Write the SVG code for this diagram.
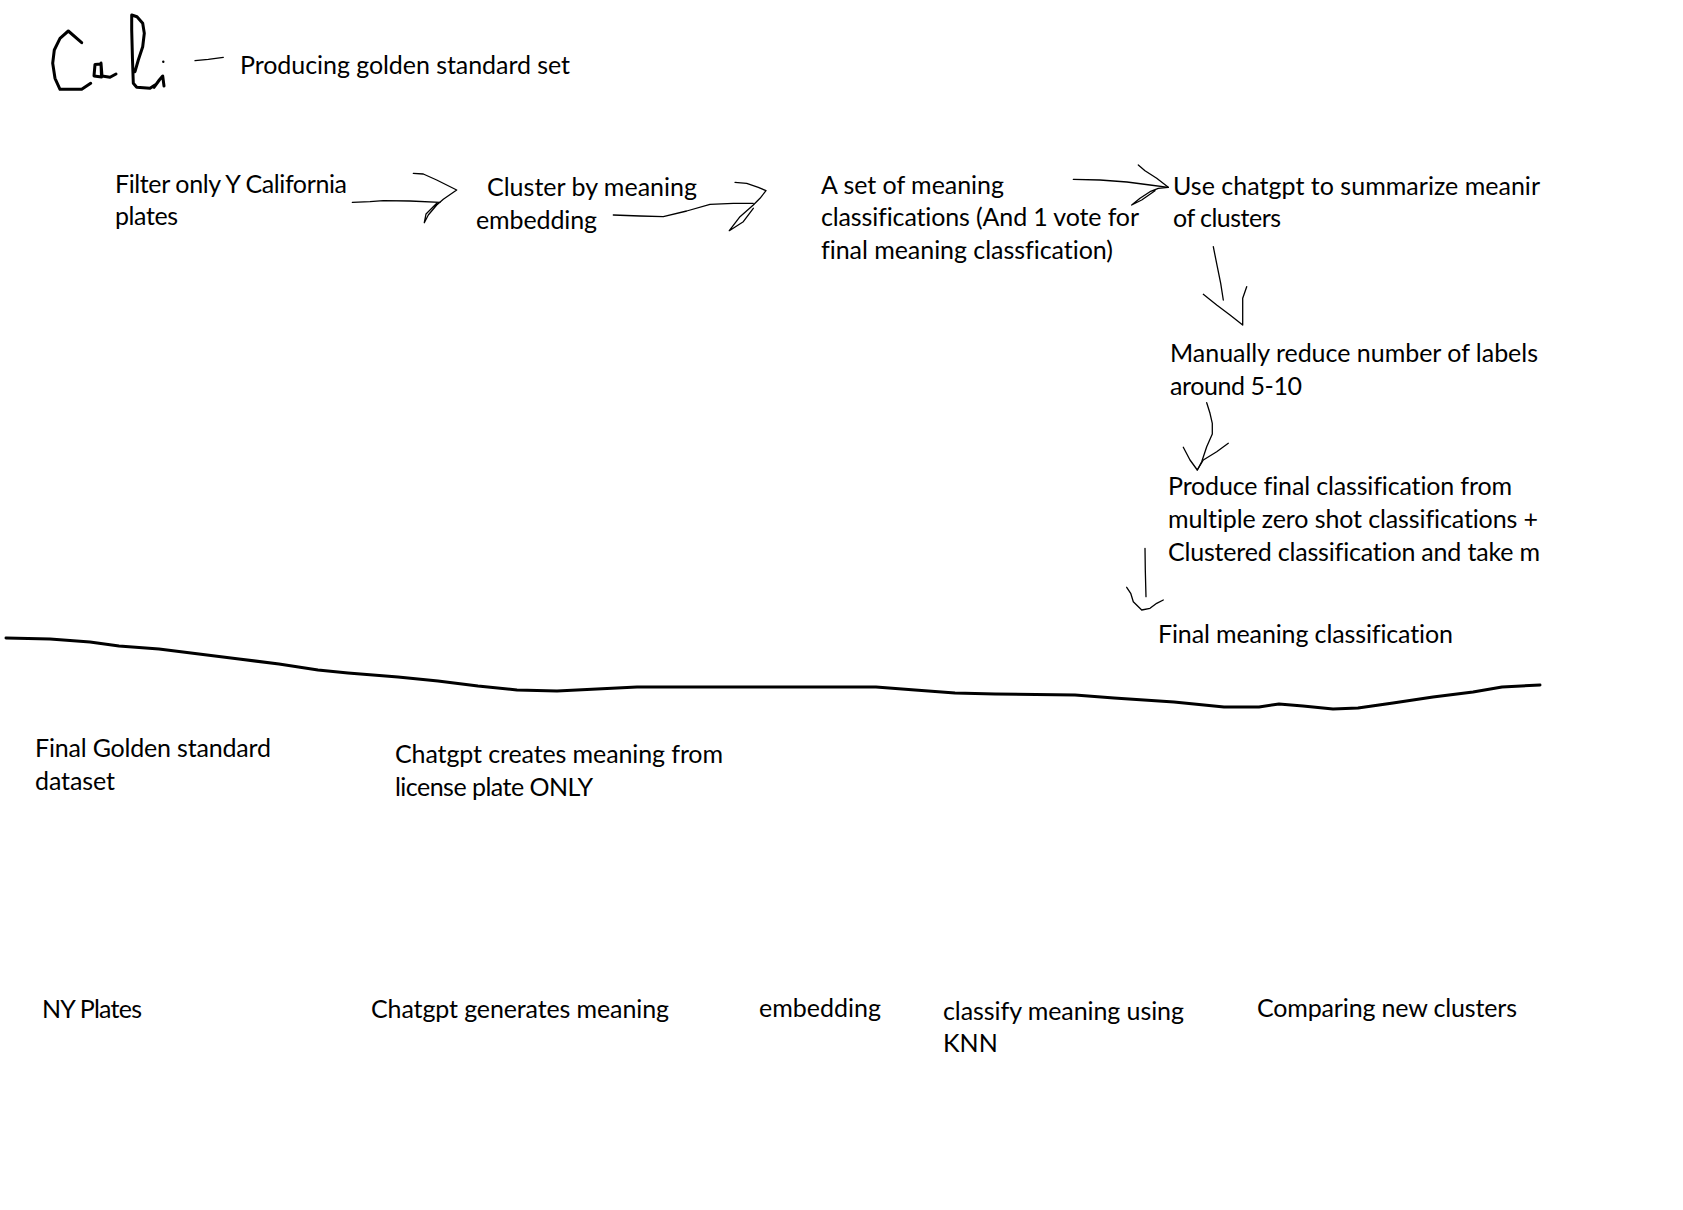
<svg xmlns="http://www.w3.org/2000/svg" width="1683" height="1210" viewBox="0 0 1683 1210">
<style>
  text { font-family: Lato, "Liberation Sans", sans-serif; font-size: 25px; fill: #000; font-variant-ligatures: none; }
  .conn { fill: none; stroke: #000; stroke-width: 1.3; stroke-linejoin: round; stroke-linecap: round; }
  .ink { fill: none; stroke: #000; stroke-width: 3; stroke-linejoin: round; stroke-linecap: round; }
</style>
<rect width="1683" height="1210" fill="#fff"/>

<!-- handwritten "Cali" -->
<g id="cali-handwriting">
  <path class="ink" d="M81.7,42.7 L68.3,31 L60,38.3 L54.3,50 L52.7,63.3 L55,78.3 L60,89.3 L81.7,89.3 L90.7,83.3"/>
  <path class="ink" d="M101,64 L95,64.5 L94,76 L101.5,77 L101,63 L102,76 L110,77.3 L116,74"/>
  <path class="ink" d="M131.7,15 L137,16.7 L142.7,23.3 L144.3,33.3 L142.7,46.7 L138.3,60 L135,71.7 M131.7,15 L131.7,30 L132.5,60 L133.3,83.3 L136.7,87.3 L150,88.3 L155,85"/>
  <path class="ink" d="M154,87.3 L159.3,80 L162.7,76 L164,86"/>
  <circle cx="163.3" cy="61.7" r="1.2" fill="#000"/>
</g>

<!-- divider line -->
<path id="divider" class="ink" d="M6,638 L50,639 L90,642 L119,646 L159,649 L199,654 L239,659 L279,664 L318,670 L348,673 L398,677 L438,681 L478,686 L517,690 L557,691 L597,689 L637,687 L876,687 L915,690 L955,693 L995,694 L1075,695 L1114,698 L1174,702 L1224,707 L1259,707 L1279,704 L1303,706 L1333,709 L1358,708 L1393,703 L1433,697 L1473,692 L1502,687 L1540,685"/>

<g id="connectors">
  <path id="dash-title" class="conn" d="M195,60.7 L208.3,59.3 L223.3,57.3"/>
  <g id="arrow-filter-cluster">
    <path class="conn" d="M352.3,202.3 L370,201.7 L383.3,200.7 L410,201 L440,202.3"/>
    <path class="conn" d="M413.3,173.3 L423.3,174 L436.7,180 L456.7,190 L443.3,199.3 L436.7,205 L428.3,215 L424.3,222.7 L426,214 L437,203"/>
  </g>
  <g id="arrow-cluster-set">
    <path class="conn" d="M613.3,215 L640,216 L663.3,216.7 L686.7,211 L710,204.3 L733.3,203.3 L753.3,203.3"/>
    <path class="conn" d="M735,182.3 L746.7,183.3 L758.3,187.3 L766,190.7 L760,198.3 L753.3,205 L740,216.7 L729.3,230.7 L743.3,221.7 L753.3,208.3"/>
  </g>
  <g id="arrow-set-summarize">
    <path class="conn" d="M1073.3,179.3 L1100,180 L1127,182 L1150,185 L1168.3,187.3"/>
    <path class="conn" d="M1138.3,165 L1145,170.7 L1156.7,178.3 L1168.3,187.3 L1158.3,188.3 L1150,191.7 L1140,198.3 L1131.7,205 L1141.7,200 L1155,190.7"/>
  </g>
  <g id="arrow-summarize-reduce">
    <path class="conn" d="M1213.3,246.7 L1217.3,266.7 L1220.7,283.3 L1223.3,300"/>
    <path class="conn" d="M1203.3,294.3 L1216.7,305 L1230,315 L1242.7,325 L1242.7,298.3 L1246.7,286.7"/>
  </g>
  <g id="arrow-reduce-produce">
    <path class="conn" d="M1206.7,402.7 L1210,413.3 L1212.3,423.3 L1212.3,434 L1206.7,446.7 L1201.7,461.7 L1197.3,470"/>
    <path class="conn" d="M1183.3,447.3 L1190,460 L1197.3,470 L1203.3,460 L1216.7,451.7 L1228.3,443.3"/>
  </g>
  <g id="arrow-produce-final">
    <path class="conn" d="M1145,548.3 L1145.3,570 L1146,596.7"/>
    <path class="conn" d="M1126.7,587.3 L1130.7,593.3 L1133.3,601.7 L1141.7,610 L1150,608.3 L1156.7,603.3 L1163.3,600"/>
  </g>
</g>

<g id="title"><text x="240" y="74" textLength="330">Producing golden standard set</text></g>

<g id="node-filter">
  <text x="115" y="193" textLength="232">Filter only Y California</text>
  <text x="115" y="225" textLength="63">plates</text>
</g>
<g id="node-cluster">
  <text x="487" y="196" textLength="210">Cluster by meaning</text>
  <text x="476" y="229" textLength="121">embedding</text>
</g>
<g id="node-set">
  <text x="821" y="194" textLength="183">A set of meaning</text>
  <text x="821" y="226" textLength="318">classifications (And 1 vote for</text>
  <text x="821" y="259" textLength="292">final meaning classfication)</text>
</g>
<g id="node-summarize">
  <text x="1173" y="195" textLength="367">Use chatgpt to summarize meanir</text>
  <text x="1173" y="227" textLength="108">of clusters</text>
</g>
<g id="node-reduce">
  <text x="1170" y="362" textLength="368">Manually reduce number of labels</text>
  <text x="1170" y="395" textLength="132">around 5-10</text>
</g>
<g id="node-produce">
  <text x="1168" y="495" textLength="344">Produce final classification from</text>
  <text x="1168" y="528" textLength="370">multiple zero shot classifications +</text>
  <text x="1168" y="561" textLength="372">Clustered classification and take m</text>
</g>
<g id="node-final-meaning">
  <text x="1158" y="643" textLength="295">Final meaning classification</text>
</g>

<g id="node-golden">
  <text x="35" y="757" textLength="236">Final Golden standard</text>
  <text x="35" y="790" textLength="80">dataset</text>
</g>
<g id="node-chatgpt-creates">
  <text x="395" y="763" textLength="328">Chatgpt creates meaning from</text>
  <text x="395" y="796" textLength="198">license plate ONLY</text>
</g>

<g id="node-ny"><text x="42" y="1018" textLength="100">NY Plates</text></g>
<g id="node-generates"><text x="371" y="1018" textLength="298">Chatgpt generates meaning</text></g>
<g id="node-embedding"><text x="759" y="1017" textLength="122">embedding</text></g>
<g id="node-knn">
  <text x="943" y="1020" textLength="241">classify meaning using</text>
  <text x="943" y="1052">KNN</text>
</g>
<g id="node-comparing"><text x="1257" y="1017" textLength="260">Comparing new clusters</text></g>
</svg>
